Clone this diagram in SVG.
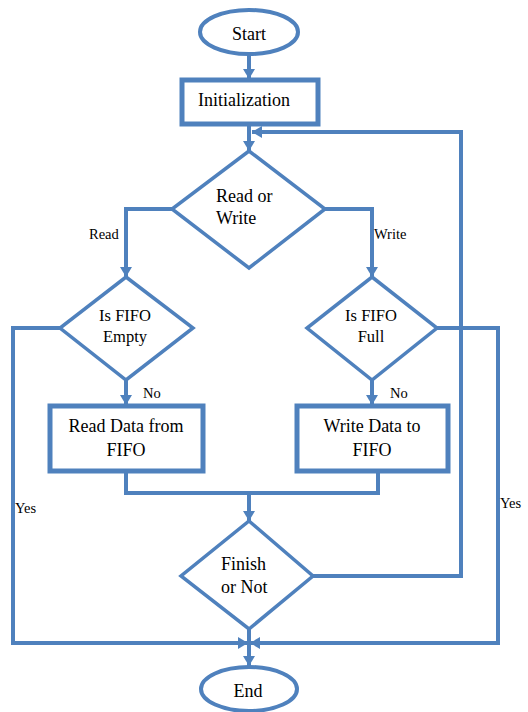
<svg xmlns="http://www.w3.org/2000/svg" width="528" height="712" viewBox="0 0 528 712">
<style>
.sh{fill:#fff;stroke:#4f81bd;stroke-width:4}
.bx{fill:#fff;stroke:#4f81bd;stroke-width:5}
.dm{fill:#fff;stroke:#4f81bd;stroke-width:3.5}
.ln{fill:none;stroke:#4f81bd;stroke-width:4}
text{font-family:'Liberation Serif','Times New Roman','DejaVu Serif',serif;fill:#000}
.t{font-size:18px}
.s{font-size:14.5px}
.d{font-size:16.5px}
</style>
<defs>
<marker id="ah" viewBox="0 0 10 12" refX="10" refY="6" markerWidth="10" markerHeight="12" markerUnits="userSpaceOnUse" orient="auto">
<path d="M0,0 L10,6 L0,12 z" fill="#4f81bd"/>
</marker>
</defs>
<g id="connectors">
<path class="ln" d="M249,54 V79" marker-end="url(#ah)"/>
<path class="ln" d="M249,126 V151" marker-end="url(#ah)"/>
<path class="ln" d="M313,576 H461 V132 H252" marker-end="url(#ah)"/>
<path class="ln" d="M172,209 H126 V277" marker-end="url(#ah)"/>
<path class="ln" d="M325,209 H372 V277" marker-end="url(#ah)"/>
<path class="ln" d="M126,380 V405" marker-end="url(#ah)"/>
<path class="ln" d="M372,380 V405" marker-end="url(#ah)"/>
<path class="ln" d="M126,472 V493 H378 V472"/>
<path class="ln" d="M249,493 V521" marker-end="url(#ah)"/>
<path class="ln" d="M60,328 H13 V643 H248" marker-end="url(#ah)"/>
<path class="ln" d="M437,328 H498 V643 H250" marker-end="url(#ah)"/>
<path class="ln" d="M249,629 V666" marker-end="url(#ah)"/>
</g>
<g id="start">
<ellipse class="sh" cx="249" cy="32" rx="49" ry="22"/>
<text class="t" x="249" y="40" text-anchor="middle" font-size="19">Start</text>
</g>
<g id="init">
<rect class="bx" x="182" y="80" width="136" height="44"/>
<text class="t" x="244" y="106" text-anchor="middle">Initialization</text>
</g>
<g id="readwrite">
<polygon class="dm" points="249,151 325,209 249,268 172,209"/>
<text class="t" x="216" y="202">Read or</text>
<text class="t" x="216" y="224">Write</text>
</g>
<g id="empty">
<polygon class="dm" points="126,277 193,328 126,380 60,328"/>
<text class="d" x="125" y="321" text-anchor="middle">Is FIFO</text>
<text class="d" x="125" y="342" text-anchor="middle">Empty</text>
</g>
<g id="full">
<polygon class="dm" points="372,277 437,328 372,380 307,328"/>
<text class="d" x="371" y="321" text-anchor="middle">Is FIFO</text>
<text class="d" x="371" y="342" text-anchor="middle">Full</text>
</g>
<g id="readdata">
<rect class="bx" x="50" y="406" width="153" height="65"/>
<text class="t" x="126" y="432" text-anchor="middle">Read Data from</text>
<text class="t" x="126" y="456" text-anchor="middle">FIFO</text>
</g>
<g id="writedata">
<rect class="bx" x="297" y="406" width="151" height="65"/>
<text class="t" x="372" y="432" text-anchor="middle">Write Data to</text>
<text class="t" x="372" y="456" text-anchor="middle">FIFO</text>
</g>
<g id="finish">
<polygon class="dm" points="249,521 313,576 249,629 181,576"/>
<text class="t" x="221" y="570">Finish</text>
<text class="t" x="221" y="593">or Not</text>
</g>
<g id="end">
<ellipse class="sh" cx="249" cy="689" rx="48" ry="22"/>
<text class="t" x="248" y="697" text-anchor="middle" font-size="19">End</text>
</g>
<g id="labels">
<text class="s" x="89" y="239">Read</text>
<text class="s" x="374" y="239">Write</text>
<text class="s" x="143" y="398">No</text>
<text class="s" x="390" y="398">No</text>
<text class="s" x="15" y="513">Yes</text>
<text class="s" x="500" y="508">Yes</text>
</g>
</svg>
